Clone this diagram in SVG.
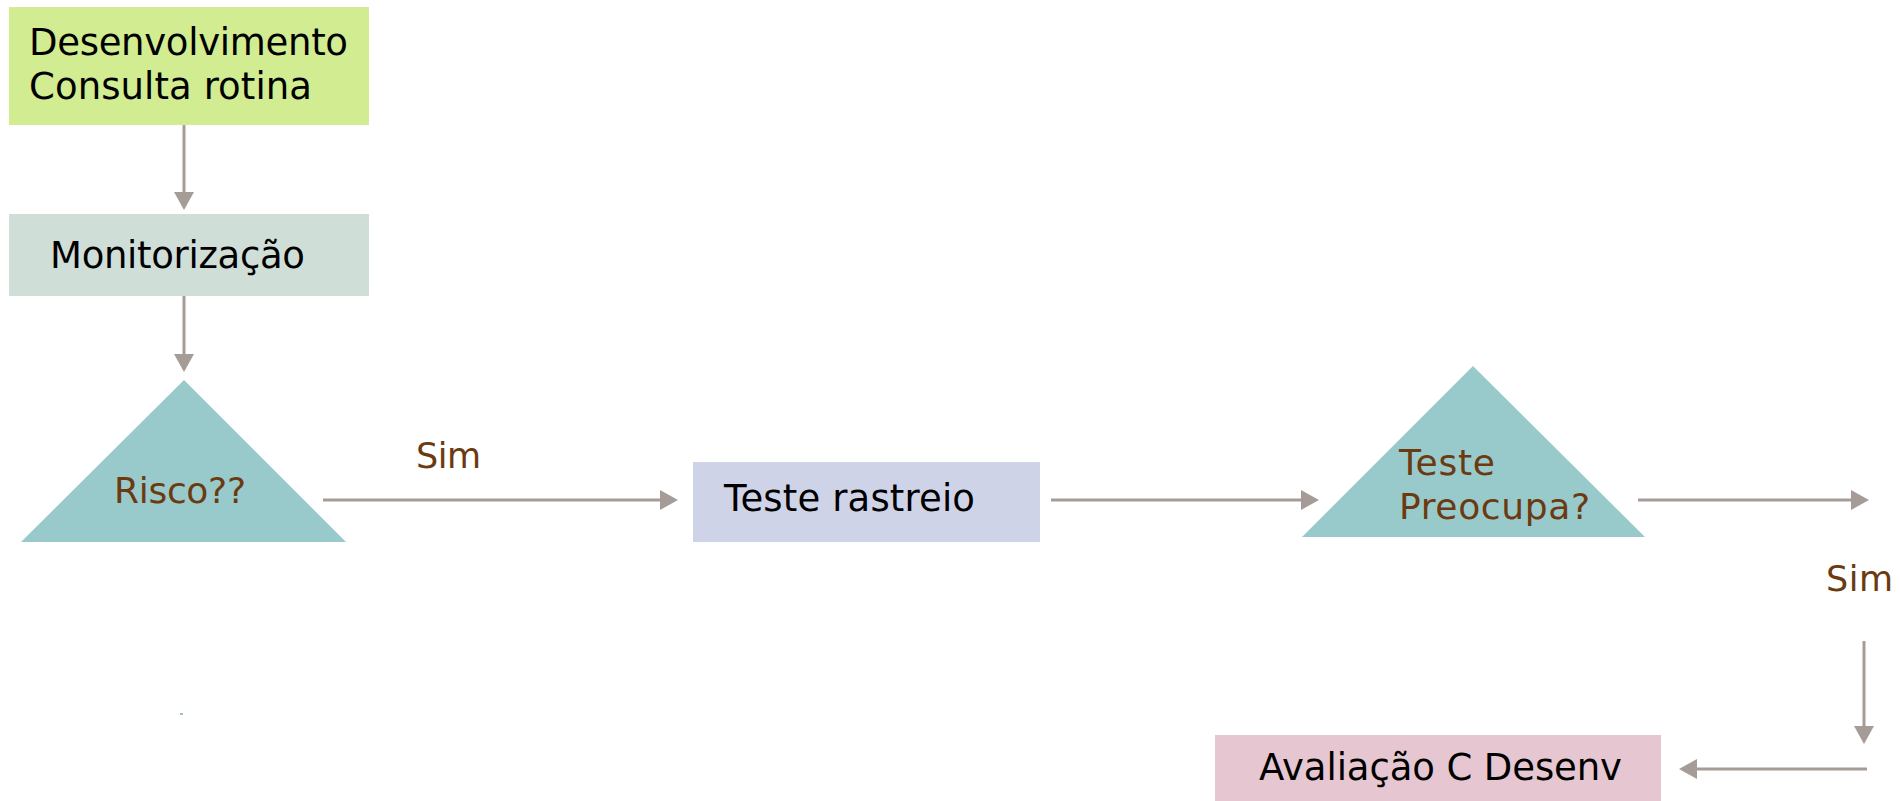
<svg xmlns="http://www.w3.org/2000/svg" width="1900" height="801" viewBox="0 0 1900 801">
  <style>
    .lbl { font-family: "DejaVu Sans", Verdana, sans-serif; font-size: 37px; fill: #000000; }
    .q { font-family: "DejaVu Sans", Verdana, sans-serif; font-size: 36px; fill: #6b3a10; }
    .yes { font-family: "DejaVu Sans", Verdana, sans-serif; font-size: 35px; fill: #6b3a10; }
    .conn { stroke: #a59c98; stroke-width: 3; fill: none; marker-end: url(#head); }
  </style>
  <defs>
    <marker id="head" viewBox="0 0 18 20" refX="0" refY="10" markerWidth="18" markerHeight="20" markerUnits="userSpaceOnUse" orient="auto">
      <path d="M0,0 L18,10 L0,20 Z" fill="#a59c98"/>
    </marker>
  </defs>
  <rect width="1900" height="801" fill="#ffffff"/>

  <g id="desenvolvimento">
    <rect x="9" y="7" width="360" height="118" fill="#d1ec91"/>
    <text class="lbl" x="29" y="55" textLength="319">Desenvolvimento</text>
    <text class="lbl" x="29" y="99" textLength="283">Consulta rotina</text>
  </g>

  <g id="monitorizacao">
    <rect x="9" y="214" width="360" height="82" fill="#d0ded8"/>
    <text class="lbl" x="50" y="268" textLength="255">Monitorização</text>
  </g>

  <g id="risco">
    <polygon points="184,380 346,542 21,542" fill="#99cacb"/>
    <text class="q" x="114" y="503" textLength="132">Risco??</text>
  </g>

  <g id="teste-rastreio">
    <rect x="693" y="462" width="347" height="80" fill="#cfd3e7"/>
    <text class="lbl" x="724" y="511" textLength="251">Teste rastreio</text>
  </g>

  <g id="teste-preocupa">
    <polygon points="1473,366 1645,537 1302,537" fill="#99cacb"/>
    <text class="q" x="1399" y="475" textLength="96">Teste</text>
    <text class="q" x="1399" y="519" textLength="191">Preocupa?</text>
  </g>

  <g id="avaliacao">
    <rect x="1215" y="735" width="446" height="66" fill="#e6c6d0"/>
    <text class="lbl" x="1259" y="780" textLength="363">Avaliação C Desenv</text>
  </g>

  <g id="connectors">
    <line class="conn" x1="184" y1="125" x2="184" y2="192"/>
    <line class="conn" x1="184" y1="296" x2="184" y2="354"/>
    <line class="conn" x1="323" y1="500" x2="660" y2="500"/>
    <line class="conn" x1="1051" y1="500" x2="1301" y2="500"/>
    <line class="conn" x1="1638" y1="500" x2="1851" y2="500"/>
    <line class="conn" x1="1864" y1="641" x2="1864" y2="726"/>
    <line class="conn" x1="1867" y1="769" x2="1697" y2="769"/>
    <text class="yes" x="416" y="468" textLength="65">Sim</text>
    <text class="yes" x="1826" y="591" textLength="67">Sim</text>
  </g>

  <rect x="180" y="713" width="3" height="2" fill="#9cc3d0"/>
</svg>
